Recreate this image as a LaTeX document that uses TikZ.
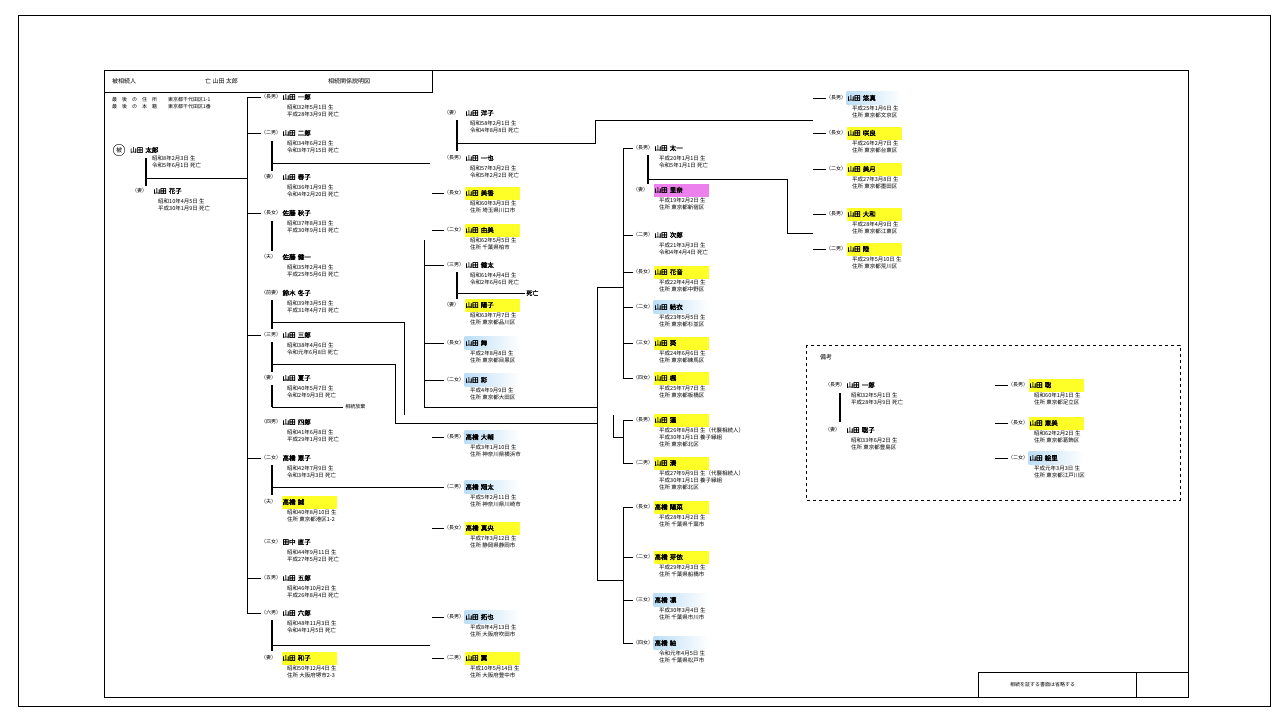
\documentclass[tikz,border=0pt]{standalone}
\usepackage{fontspec}
\setmainfont{Noto Sans CJK JP}[AutoFakeBold=2]
\usetikzlibrary{positioning,calc}
\definecolor{hlyel}{RGB}{255,255,40}
\definecolor{hlblu}{RGB}{188,222,246}
\definecolor{hlmag}{RGB}{236,128,236}
\tikzset{
  rel/.style={anchor=west,inner sep=0pt,text width=20pt,align=left,font=\fontsize{5}{6}\selectfont},
  nm/.style={anchor=west,inner xsep=1pt,inner ysep=0pt,minimum height=13pt,text width=53pt,align=left,font=\fontsize{6.5}{7}\selectfont\bfseries},
  dtl/.style={anchor=north west,inner sep=0pt,align=left,font=\fontsize{5.5}{7}\selectfont},
  hy/.style={fill=hlyel},
  hb/.style={left color=hlblu,right color=white},
  hm/.style={fill=hlmag},
  tl/.style={line width=0.7pt},
  ml/.style={line width=1.5pt},
  frm/.style={line width=0.8pt},
  hdr/.style={anchor=west,inner sep=0pt,font=\fontsize{6}{7}\selectfont},
  sml/.style={anchor=west,inner sep=0pt,font=\fontsize{5}{7}\selectfont}
}
% one person: label, name (highlight), two or three detail lines
\newcommand{\prsn}[6][]{%
  \node[rel] (#2) at (#3) {#4};
  \node[nm,#1] (#2n) at (#2.east) {#5};
  \node[dtl] (#2d) at ([xshift=26pt,yshift=-7.5pt]#2.west) {#6};}

\begin{document}
\begin{tikzpicture}[x=1pt,y=-1pt]
  \useasboundingbox (0,0) rectangle (1286,720);
  % Frames and header
  \draw[frm] (18,15) rectangle (1270,706);
  \draw[frm] (104,70) rectangle (1188,697);
  \draw[frm] (104,92) -- (432,92) -- (432,70);
  \node[hdr] (h1) at (112,81) {被相続人};
  \node[hdr] (h2) at (205,81) {亡 山田 太郎};
  \node[hdr] (h3) at (328,81) {相続関係説明図};
  \node[sml] (ad1) at (112,100) {最　後　の　住　所};
  \node[sml] (ad2) at (112,107) {最　後　の　本　籍};
  \node[sml] (ad3) at (168,100) {東京都千代田区1-1};
  \node[sml] (ad4) at (168,107) {東京都千代田区1番};

  % Column coordinates
  \coordinate (colA) at (247,0);
  \coordinate (colB) at (424,0);
  \coordinate (colC) at (623,0);
  \coordinate (colD) at (813,0);
  \coordinate (colE) at (995,0);
  \coordinate (busC) at (597,0);

  % Deceased and spouse
  \node[circle,draw,inner sep=1.2pt,font=\fontsize{6}{6}\selectfont] (dcc) at (119,150) {被};
  \node[nm] (dec) at (129,150) {山田 太郎};
  \node[dtl] (decd) at (152,155.5) {昭和8年2月3日 生\\令和5年6月1日 死亡};
  \prsn{sp}{132,191}{（妻）}{山田 花子}{昭和10年4月5日 生\\平成30年1月9日 死亡}
  \coordinate (dm) at (146,178);

  % Column A
  \prsn{a1}{261,97}{（長男）}{山田 一郎}{昭和32年5月1日 生\\平成28年3月9日 死亡}
  \prsn{a2}{261,133}{（二男）}{山田 二郎}{昭和34年6月2日 生\\令和3年7月15日 死亡}
  \prsn{a3}{261,177}{（妻）}{山田 春子}{昭和36年1月9日 生\\令和4年2月20日 死亡}
  \prsn{a4}{261,213}{（長女）}{佐藤 秋子}{昭和37年8月3日 生\\平成30年9月1日 死亡}
  \prsn{a5}{261,257}{（夫）}{佐藤 健一}{昭和35年2月4日 生\\平成25年5月6日 死亡}
  \prsn{a6}{261,293}{（前妻）}{鈴木 冬子}{昭和39年3月5日 生\\平成31年4月7日 死亡}
  \prsn{a7}{261,335}{（三男）}{山田 三郎}{昭和38年4月6日 生\\令和元年6月8日 死亡}
  \prsn{a8}{261,378}{（妻）}{山田 夏子}{昭和40年5月7日 生\\令和2年9月3日 死亡}
  \prsn{a9}{261,422}{（四男）}{山田 四郎}{昭和41年6月8日 生\\平成29年1月9日 死亡}
  \prsn{a10}{261,458}{（二女）}{高橋 恵子}{昭和42年7月9日 生\\令和3年3月3日 死亡}
  \prsn[hy]{a11}{261,502}{（夫）}{高橋 誠}{昭和40年8月10日 生\\住所 東京都港区1-2}
  \prsn{a12}{261,542}{（三女）}{田中 直子}{昭和44年9月11日 生\\平成27年5月2日 死亡}
  \prsn{a13}{261,578}{（五男）}{山田 五郎}{昭和46年10月2日 生\\平成26年8月4日 死亡}
  \prsn{a14}{261,613}{（六男）}{山田 六郎}{昭和48年11月3日 生\\令和4年1月5日 死亡}
  \prsn[hy]{a15}{261,658}{（妻）}{山田 和子}{昭和50年12月4日 生\\住所 大阪府堺市2-3}

  % Column B
  \prsn{b1}{444,113}{（妻）}{山田 洋子}{昭和58年2月1日 生\\令和4年8月8日 死亡}
  \prsn{b2}{444,158}{（長男）}{山田 一也}{昭和57年3月2日 生\\令和5年2月2日 死亡}
  \prsn[hy]{b3}{444,193}{（長女）}{山田 美香}{昭和60年3月3日 生\\住所 埼玉県川口市}
  \prsn[hy]{b4}{444,230}{（二女）}{山田 由美}{昭和62年5月5日 生\\住所 千葉県柏市}
  \prsn{b5}{444,265}{（三男）}{山田 健太}{昭和61年4月4日 生\\令和2年6月6日 死亡}
  \prsn[hy]{b6}{444,305}{（妻）}{山田 陽子}{昭和63年7月7日 生\\住所 東京都品川区}
  \prsn[hb]{b7}{444,343}{（長女）}{山田 舞}{平成2年8月8日 生\\住所 東京都目黒区}
  \prsn[hb]{b8}{444,380}{（二女）}{山田 彩}{平成4年9月9日 生\\住所 東京都大田区}
  \prsn[hb]{b9}{444,437}{（長男）}{高橋 大輔}{平成3年1月10日 生\\住所 神奈川県横浜市}
  \prsn[hb]{b10}{444,487}{（二男）}{高橋 翔太}{平成5年2月11日 生\\住所 神奈川県川崎市}
  \prsn[hy]{b11}{444,528}{（長女）}{高橋 真央}{平成7年3月12日 生\\住所 静岡県静岡市}
  \prsn[hb]{b12}{444,617}{（長男）}{山田 拓也}{平成8年4月13日 生\\住所 大阪府吹田市}
  \prsn[hy]{b13}{444,658}{（二男）}{山田 翼}{平成10年5月14日 生\\住所 大阪府豊中市}

  % Column C
  \prsn{c1}{633,148}{（長男）}{山田 太一}{平成20年1月1日 生\\令和5年1月1日 死亡}
  \prsn[hm]{c2}{633,190}{（妻）}{山田 里奈}{平成19年2月2日 生\\住所 東京都新宿区}
  \prsn{c3}{633,235}{（二男）}{山田 次郎}{平成21年3月3日 生\\令和4年4月4日 死亡}
  \prsn[hy]{c4}{633,272}{（長女）}{山田 花音}{平成22年4月4日 生\\住所 東京都中野区}
  \prsn[hb]{c5}{633,307}{（二女）}{山田 結衣}{平成23年5月5日 生\\住所 東京都杉並区}
  \prsn[hy]{c6}{633,343}{（三女）}{山田 葵}{平成24年6月6日 生\\住所 東京都練馬区}
  \prsn[hy]{c7}{633,378}{（四女）}{山田 楓}{平成25年7月7日 生\\住所 東京都板橋区}
  \prsn[hy]{c8}{633,420}{（長男）}{山田 蓮}{平成26年8月8日 生（代襲相続人）\\平成30年1月1日 養子縁組\\住所 東京都北区}
  \prsn[hy]{c9}{633,463}{（二男）}{山田 湊}{平成27年9月9日 生（代襲相続人）\\平成30年1月1日 養子縁組\\住所 東京都北区}
  \prsn[hy]{c10}{633,507}{（長女）}{高橋 陽菜}{平成28年1月2日 生\\住所 千葉県千葉市}
  \prsn[hy]{c11}{633,557}{（二女）}{高橋 芽依}{平成29年2月3日 生\\住所 千葉県船橋市}
  \prsn[hb]{c12}{633,600}{（三女）}{高橋 凛}{平成30年3月4日 生\\住所 千葉県市川市}
  \prsn[hb]{c13}{633,643}{（四女）}{高橋 紬}{令和元年4月5日 生\\住所 千葉県松戸市}

  % Column D
  \prsn[hb]{d1}{826,98}{（長男）}{山田 悠真}{平成25年1月6日 生\\住所 東京都文京区}
  \prsn[hy]{d2}{826,133}{（長女）}{山田 咲良}{平成26年2月7日 生\\住所 東京都台東区}
  \prsn[hy]{d3}{826,169}{（二女）}{山田 美月}{平成27年3月8日 生\\住所 東京都墨田区}
  \prsn[hy]{d4}{826,214}{（長男）}{山田 大和}{平成28年4月9日 生\\住所 東京都江東区}
  \prsn[hy]{d5}{826,249}{（二男）}{山田 陸}{平成29年5月10日 生\\住所 東京都荒川区}

  % Supplement box
  \draw[dashed] (806,345) rectangle (1180,500);
  \node[hdr] (bxt) at (820,357) {備考};
  \prsn{e1}{825,385}{（長男）}{山田 一郎}{昭和32年5月1日 生\\平成28年3月9日 死亡}
  \prsn{e2}{825,430}{（妻）}{山田 聡子}{昭和33年6月2日 生\\住所 東京都豊島区}
  \prsn[hy]{e3}{1008,385}{（長男）}{山田 聡}{昭和60年1月1日 生\\住所 東京都足立区}
  \prsn[hy]{e4}{1008,423}{（長女）}{山田 恵美}{昭和62年2月2日 生\\住所 東京都葛飾区}
  \prsn[hb]{e5}{1008,458}{（二女）}{山田 絵里}{平成元年3月3日 生\\住所 東京都江戸川区}
  \draw[ml] (840,393) -- (840,422);
  \foreach \p in {e3,e4,e5}
    \draw[tl] (\p.west -| colE) -- (\p.west);

  % Bottom note
  \draw[frm] (978,672) rectangle (1188,697);
  \draw[frm] (1136,672) -- (1136,697);
  \node[sml] (note) at (1010,684.5) {相続を証する書面は省略する};

  % Trunk from deceased
  \draw[ml] (146,158) -- (146,186);
  \draw[tl] (dm) -- (dm -| colA);
  \draw[tl] (a1.west -| colA) -- (a14.west -| colA);
  \foreach \p in {a1,a2,a4,a7,a10,a13,a14}
    \draw[tl] (\p.west -| colA) -- (\p.west);

  % Column A couples
  \draw[ml] (272,141) -- (272,171);
  \draw[tl] (272,163) -- (430,163);
  \draw[ml] (272,221) -- (272,251);
  \draw[ml] (272,300) -- (272,329);
  \draw[ml] (272,342) -- (272,372);
  \draw[ml] (272,385) -- (272,407);
  \draw[tl] (272,322) -| (404,415);
  \draw[tl] (272,364) -| (395,423) -- (597,423);
  \draw[tl] (272,407) -- (343,407) node[sml,right=2pt] (rn1) {相続放棄};
  \draw[ml] (272,465) -- (272,495);
  \draw[tl] (272,487) -- (b10.west);
  \draw[ml] (272,620) -- (272,651);
  \draw[tl] (272,645) -- (430,645);

  % Column B lines
  \draw[ml] (457,120) -- (457,151);
  \draw[tl] (457,143) -| (595,120) -- (813,120);
  \draw[tl] (424,240) -- (424,407) -- (597,407);
  \foreach \p in {b5,b7,b8}
    \draw[tl] (\p.west -| colB) -- (\p.west);
  \foreach \p in {b3,b4,b9,b11,b12,b13}
    \draw[tl] ([xshift=-12pt]\p.west) -- (\p.west);
  \draw[ml] (457,272) -- (457,299);
  \draw[tl] (457,293) -- (525,293) node[hdr,right=1pt,font=\fontsize{6}{7}\selectfont\bfseries] (rn2) {死亡};

  % Column C lines
  \draw[tl] (busC |- 0,287) -- (busC |- 0,580) -- (colC |- 0,580);
  \draw[tl] (busC |- 0,287) -- (colC |- 0,287);
  \draw[tl] (c1.west -| colC) -- (c7.west -| colC);
  \draw[tl] (c8.west -| colC) -- (c9.west -| colC);
  \draw[tl] (613,415) -- (613,437) -- (colC |- 0,437);
  \draw[tl] (c10.west -| colC) -- (c13.west -| colC);
  \foreach \p in {c1,c3,c4,c5,c6,c7,c8,c9,c10,c11,c12,c13}
    \draw[tl] (\p.west -| colC) -- (\p.west);
  \draw[ml] (648,155) -- (648,184);
  \draw[tl] (648,179) -| (787,233) -- (813,233);

  % Column D ticks
  \foreach \p in {d1,d2,d3,d4,d5}
    \draw[tl] (\p.west -| colD) -- (\p.west);
\end{tikzpicture}
\end{document}
